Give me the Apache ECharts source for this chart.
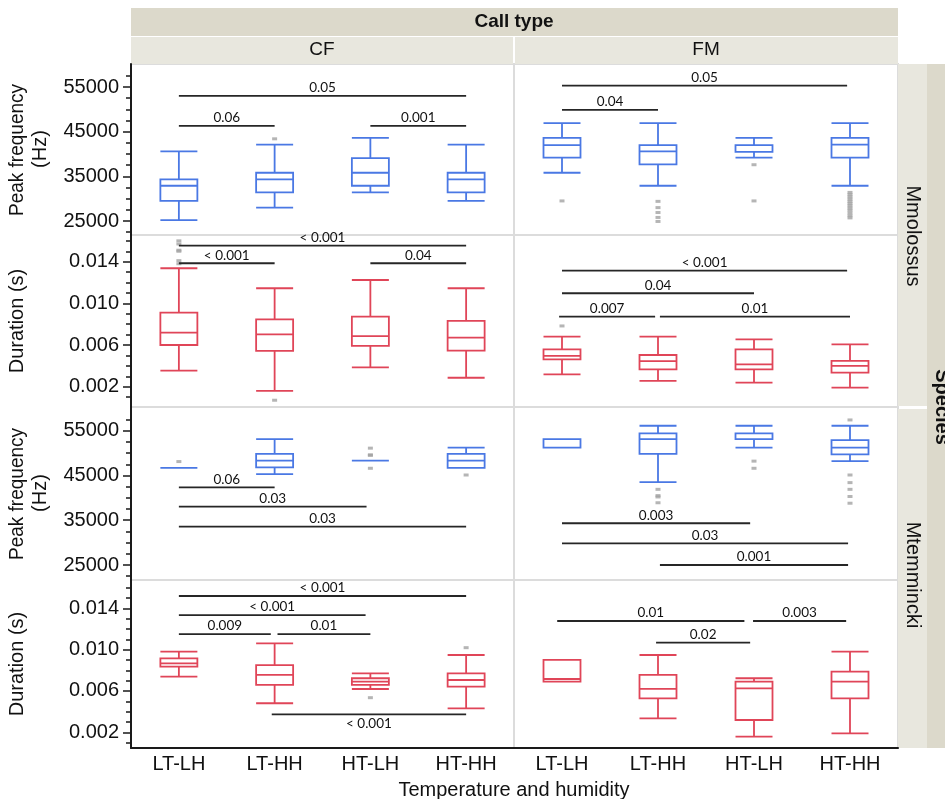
<!DOCTYPE html>
<html>
<head>
<meta charset="utf-8">
<script src="https://cdn.jsdelivr.net/npm/echarts@6/dist/echarts.min.js"></script>
<style>
html, body { margin: 0; padding: 0; background: #fff; }
#chart { width: 945px; height: 799px; }
</style>
</head>
<body>
<div id="chart"></div>
<script>
var chart = echarts.init(document.getElementById('chart'));

const categories = ['LT-LH', 'LT-HH', 'HT-LH', 'HT-HH'];
const callTypes = ['CF', 'FM'];
const species = ['Mmolossus', 'Mtemmincki'];

const freqTicks = [25000, 35000, 45000, 55000];
const freqMinorTicks = [22500, 27500, 30000, 32500, 37500, 40000, 42500, 47500, 50000, 52500, 57500];
const durTicks = [0.002, 0.006, 0.010, 0.014];
const durMinorTicks = [0.001, 0.003, 0.004, 0.005, 0.007, 0.008, 0.009, 0.011, 0.012, 0.013, 0.015, 0.016];

// boxes: [min, Q1, median, Q3, max] per category
const molFreqCF = [
	[25200, 29500, 32900, 34300, 40600],
	[28000, 31400, 34300, 35800, 42100],
	[31400, 32900, 35800, 39100, 43600],
	[29500, 31400, 34300, 35800, 42100]
];
const molFreqFM = [
	[35800, 39200, 42000, 43600, 46900],
	[32900, 37700, 40600, 42000, 46900],
	[39200, 40500, 42000, 42000, 43600],
	[32900, 39200, 42100, 43600, 46900]
];
const molDurCF = [
	[0.00354, 0.0060, 0.00718, 0.0091, 0.01337],
	[0.00159, 0.00543, 0.00703, 0.00847, 0.01145],
	[0.00386, 0.00591, 0.00686, 0.00872, 0.01224],
	[0.00286, 0.00546, 0.0067, 0.00831, 0.01145]
];
const molDurFM = [
	[0.00319, 0.00463, 0.00495, 0.00559, 0.0068],
	[0.00255, 0.00366, 0.00446, 0.00504, 0.0068],
	[0.00239, 0.00366, 0.00415, 0.00559, 0.00655],
	[0.00191, 0.00335, 0.00399, 0.00447, 0.00607]
];
const temFreqCF = [
	[46700, 46700, 46700, 46700, 46700],
	[45300, 46800, 48300, 49800, 53100],
	[48300, 48300, 48300, 48300, 48300],
	[46700, 46700, 48300, 49800, 51200]
];
const temFreqFM = [
	[51200, 51200, 51200, 53100, 53100],
	[43500, 49800, 53100, 54400, 56100],
	[51200, 53100, 53100, 54400, 56100],
	[48200, 49700, 51200, 52900, 56100]
];
const temDurCF = [
	[0.00738, 0.00835, 0.00868, 0.00916, 0.0098],
	[0.00481, 0.00658, 0.00755, 0.00851, 0.01061],
	[0.00619, 0.00658, 0.0069, 0.00723, 0.00771],
	[0.00432, 0.00642, 0.00706, 0.00771, 0.00948]
];
const temDurFM = [
	[0.0069, 0.0069, 0.00716, 0.009, 0.009],
	[0.00335, 0.00529, 0.0062, 0.00755, 0.00948],
	[0.00158, 0.00319, 0.00626, 0.0069, 0.00723],
	[0.0019, 0.00529, 0.0069, 0.00787, 0.0098]
];

// outliers: [category index, value]
const molFreqCFOut = [[1, 43400]];
const molFreqFMOut = [
	[0, 29500], [1, 29400], [1, 28000], [1, 26900], [1, 25800], [1, 24900],
	[2, 37600], [2, 29500],
	[3, 31400], [3, 30900], [3, 30400], [3, 29900], [3, 29400], [3, 28900], [3, 28400],
	[3, 27900], [3, 27400], [3, 26800], [3, 26200], [3, 25700]
];
const molDurCFOut = [[0, 0.0160], [0, 0.0157], [0, 0.0151], [0, 0.0150], [0, 0.0141], [0, 0.0138], [1, 0.0007]];
const molDurFMOut = [[0, 0.00783]];
const temFreqCFOut = [[0, 48100], [2, 51100], [2, 49600], [2, 49500], [2, 46600], [3, 45100]];
const temFreqFMOut = [
	[1, 41900], [1, 40500], [1, 40200], [1, 38900], [2, 48200], [2, 46600],
	[3, 57400], [3, 45100], [3, 43400], [3, 41900], [3, 40300], [3, 38800]
];
const temDurCFOut = [[2, 0.00535], [3, 0.01019]];
const temDurFMOut = [];

// significance bars: [from category, to category, y value, p label, label below]
const molFreqCFSig = [[0, 3, 53000, '0.05'], [0, 1, 46300, '0.06'], [2, 3, 46300, '0.001']];
const molFreqFMSig = [[0, 2.97, 55300, '0.05'], [0, 1, 49900, '0.04']];
const molDurCFSig = [[0, 3, 0.01554, '< 0.001'], [0, 1, 0.01385, '< 0.001'], [2, 3, 0.01385, '0.04']];
const molDurFMSig = [[0, 2.97, 0.01314, '< 0.001'], [0, 2, 0.01097, '0.04'], [-0.03, 0.97, 0.00872, '0.007'], [1.02, 3, 0.00872, '0.01']];
const temFreqCFSig = [[0, 1, 42360, '0.06'], [0, 1.96, 38020, '0.03'], [0, 3, 33560, '0.03']];
const temFreqFMSig = [[0, 1.96, 34320, '0.003'], [0, 2.98, 29850, '0.03'], [1.02, 2.98, 25000, '0.001']];
const temDurCFSig = [[0, 3, 0.01519, '< 0.001'], [0, 1.95, 0.01335, '< 0.001'], [0, 0.96, 0.01151, '0.009'], [1.03, 2, 0.01151, '0.01'], [0.97, 3, 0.00374, '< 0.001', true]];
const temDurFMSig = [[-0.05, 1.9, 0.01277, '0.01'], [1.99, 2.96, 0.01277, '0.003'], [0.98, 1.96, 0.01067, '0.02']];

const BLUE = '#4a78e4';
const RED = '#e04558';
const FONT = 'Liberation Sans';

const freqFmt = function (v) { return String(Math.round(v)); };
const durFmt = function (v) { return v.toFixed(3); };

const rows = [
	{top: 64, height: 171, min: 21870, max: 60150, ticks: freqTicks, minor: freqMinorTicks, fmt: freqFmt, color: BLUE},
	{top: 235, height: 172, min: 0.00005, max: 0.01656, ticks: durTicks, minor: durMinorTicks, fmt: durFmt, color: RED},
	{top: 407, height: 173, min: 21650, max: 60290, ticks: freqTicks, minor: freqMinorTicks, fmt: freqFmt, color: BLUE},
	{top: 580, height: 168, min: 0.00048, max: 0.01674, ticks: durTicks, minor: durMinorTicks, fmt: durFmt, color: RED}
];
const cols = [{left: 131, width: 383}, {left: 514, width: 384}];

const panels = [
	{row: 0, col: 0, box: molFreqCF, out: molFreqCFOut, sig: molFreqCFSig},
	{row: 0, col: 1, box: molFreqFM, out: molFreqFMOut, sig: molFreqFMSig},
	{row: 1, col: 0, box: molDurCF, out: molDurCFOut, sig: molDurCFSig},
	{row: 1, col: 1, box: molDurFM, out: molDurFMOut, sig: molDurFMSig},
	{row: 2, col: 0, box: temFreqCF, out: temFreqCFOut, sig: temFreqCFSig},
	{row: 2, col: 1, box: temFreqFM, out: temFreqFMOut, sig: temFreqFMSig},
	{row: 3, col: 0, box: temDurCF, out: temDurCFOut, sig: temDurCFSig},
	{row: 3, col: 1, box: temDurFM, out: temDurFMOut, sig: temDurFMSig}
];

var grid = [], xAxis = [], yAxis = [], series = [];

panels.forEach(function (p, i) {
	var r = rows[p.row], c = cols[p.col];
	var isLeft = p.col === 0, isBottom = p.row === 3;
	grid.push({
		left: c.left, top: r.top, width: c.width, height: r.height,
		show: true, backgroundColor: '#fff', borderColor: '#dcdcdc', borderWidth: 2,
		outerBoundsMode: 'none'
	});
	xAxis.push({
		gridIndex: i, type: 'category', data: categories,
		axisLine: {show: isBottom, lineStyle: {color: '#1a1a1a', width: 2}},
		axisTick: {show: false},
		axisLabel: {show: isBottom, fontFamily: FONT, fontSize: 20, color: '#111', margin: 6},
		splitLine: {show: false}
	});
	yAxis.push({
		gridIndex: i, type: 'value', position: 'left', min: r.min, max: r.max, show: isLeft,
		axisLine: {show: true, onZero: false, lineStyle: {color: '#1a1a1a', width: 2}},
		axisTick: {show: true, length: 8, customValues: r.ticks, lineStyle: {color: '#1a1a1a', width: 1.5}},
		axisLabel: {show: true, customValues: r.ticks, formatter: r.fmt, fontFamily: FONT, fontSize: 20, color: '#111', margin: 12},
		splitLine: {show: false}
	});
	series.push({
		type: 'boxplot', xAxisIndex: i, yAxisIndex: i, data: p.box,
		boxWidth: [37, 37],
		itemStyle: {color: 'rgba(255,255,255,0)', borderColor: r.color, borderWidth: 1.8},
		emphasis: {disabled: true}, silent: true
	});
	series.push({
		type: 'scatter', xAxisIndex: i, yAxisIndex: i, data: p.out,
		symbol: 'rect', symbolSize: [5, 3], itemStyle: {color: '#a3a3a3'}, silent: true, z: 3
	});
	series.push({
		type: 'custom', xAxisIndex: i, yAxisIndex: i, z: 5, silent: true,
		data: p.sig.map(function (b) { return [0, b[2]]; }),
		renderItem: function (params, api) {
			var b = p.sig[params.dataIndex];
			var band = api.size([1, 0])[0];
			var o = api.coord([0, api.value(1)]);
			var x1 = o[0] + b[0] * band, x2 = o[0] + b[1] * band, y = o[1];
			return {
				type: 'group',
				children: [
					{type: 'line', shape: {x1: x1, y1: y, x2: x2, y2: y}, style: {stroke: '#262626', lineWidth: 1.8}},
					{type: 'text', x: (x1 + x2) / 2, y: y + (b[4] ? 9 : -8),
						style: {text: b[3], align: 'center', verticalAlign: 'middle', font: '13.5px Lato', fill: '#111'}}
				]
			};
		}
	});
});

// minor ticks on the left column
panels.forEach(function (p, i) {
	if (p.col !== 0) return;
	var r = rows[p.row];
	yAxis.push({
		gridIndex: i, type: 'value', position: 'left', min: r.min, max: r.max,
		axisLine: {show: false},
		axisTick: {show: true, length: 5, customValues: r.minor, lineStyle: {color: '#1a1a1a', width: 1.5}},
		axisLabel: {show: false},
		splitLine: {show: false}
	});
});

const DARK = '#dcd9cb', LIGHT = '#e8e7de';
function label(text, x, y, size, opts) {
	opts = opts || {};
	return {
		type: 'text', x: x, y: y, rotation: opts.rot || 0, scaleX: opts.sx || 1, z: 20,
		style: {text: text, align: 'center', verticalAlign: 'middle',
			font: (opts.bold ? 'bold ' : '') + size + 'px ' + FONT, fill: '#111'}
	};
}

var graphic = [
	{type: 'rect', shape: {x: 131, y: 8, width: 767, height: 28}, style: {fill: DARK}},
	{type: 'rect', shape: {x: 131, y: 37, width: 382, height: 27}, style: {fill: LIGHT}},
	{type: 'rect', shape: {x: 515, y: 37, width: 383, height: 27}, style: {fill: LIGHT}},
	{type: 'rect', shape: {x: 898, y: 64, width: 29, height: 342}, style: {fill: LIGHT}},
	{type: 'rect', shape: {x: 898, y: 409, width: 29, height: 339}, style: {fill: LIGHT}},
	{type: 'rect', shape: {x: 927, y: 64, width: 18, height: 684}, style: {fill: DARK}},
	label('Call type', 514, 22, 19, {bold: true}),
	label(callTypes[0], 322, 50, 19),
	label(callTypes[1], 706, 50, 19),
	label(species[0], 913, 236, 20, {rot: -Math.PI / 2}),
	label(species[1], 913, 575, 20, {rot: -Math.PI / 2}),
	label('Species', 942, 407, 20, {rot: -Math.PI / 2, bold: true}),
	label('Peak frequency', 17, 150, 20, {rot: Math.PI / 2, sx: 0.95}),
	label('(Hz)', 40, 149, 20, {rot: Math.PI / 2}),
	label('Duration (s)', 17, 321, 20, {rot: Math.PI / 2}),
	label('Peak frequency', 17, 494, 20, {rot: Math.PI / 2, sx: 0.95}),
	label('(Hz)', 40, 493, 20, {rot: Math.PI / 2}),
	label('Duration (s)', 17, 664, 20, {rot: Math.PI / 2}),
	label('Temperature and humidity', 514, 790, 20)
];

var option = {
	animation: false,
	backgroundColor: '#fff',
	grid: grid,
	xAxis: xAxis,
	yAxis: yAxis,
	series: series,
	graphic: graphic
};

chart.setOption(option);
</script>
</body>
</html>
